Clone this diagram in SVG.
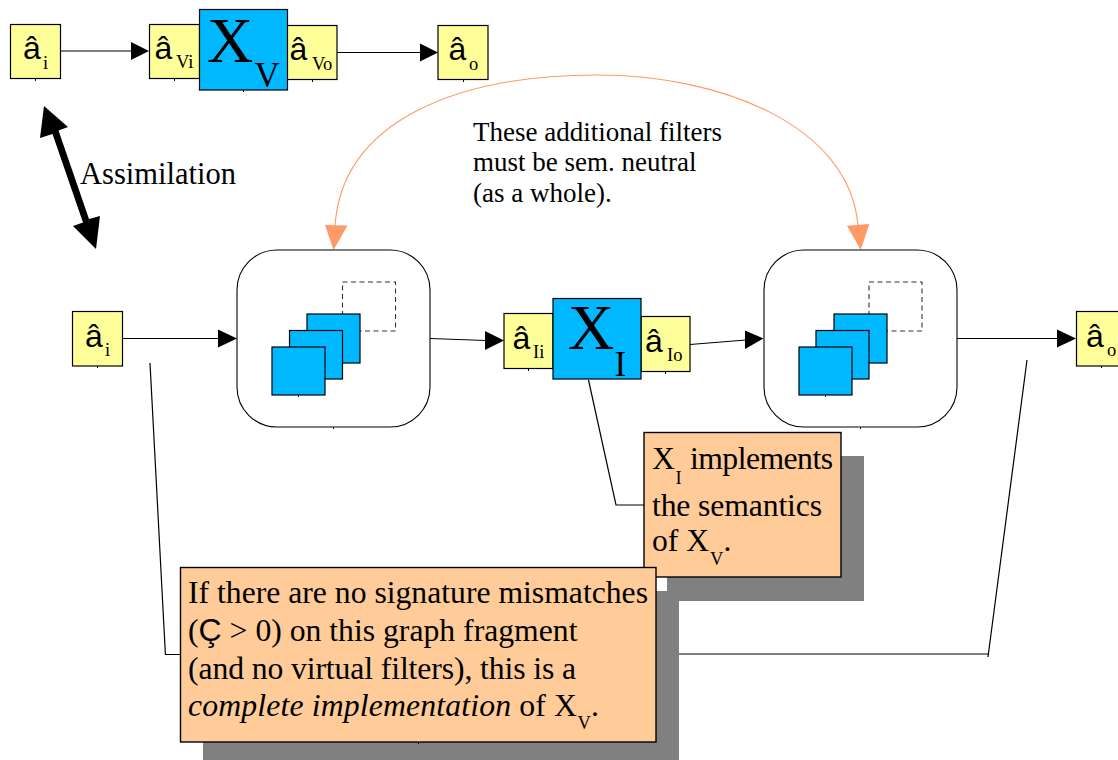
<svg xmlns="http://www.w3.org/2000/svg" width="1118" height="760" viewBox="0 0 1118 760">
<style>
.y{fill:#ffff99;stroke:#000;stroke-width:1.2}
.b{fill:#00b8ff;stroke:#000;stroke-width:1.2}
.o{fill:#ffcc99;stroke:#000;stroke-width:1.4}
.s{fill:#808080}
.r{fill:#fff;stroke:#000;stroke-width:1.1}
.d{fill:none;stroke:#333;stroke-width:1.1;stroke-dasharray:5 3.5}
.l{fill:none;stroke:#000;stroke-width:1.2}
.k{fill:none;stroke:#000;stroke-width:1}
.c{fill:none;stroke:#ff9966;stroke-width:1.1}
.t{font-family:"Liberation Serif","Times New Roman",serif;fill:#000}
.a{font-family:"Liberation Sans",Arial,sans-serif;font-size:32px;fill:#000}
.n{font-size:30.5px}
.m{font-size:31.7px}
.p{font-size:27px}
.u{font-size:18.5px}
.h{fill:#000}
.q{fill:#ff9966}
</style>
<g id="connectors">
<path class="l" d="M61,51H132"/><polygon class="h" points="149,51 131,42 131,60"/>
<path class="l" d="M337,52.500H421"/><polygon class="h" points="438,52.500 420,43.500 420,61.500"/>
<path class="l" d="M123,338.500H219"/><polygon class="h" points="237,338.500 218,329.500 218,347.500"/>
<path class="l" d="M430,338.500L486,340.500"/><polygon class="h" points="504,340.500 485,331 485,350"/>
<path class="l" d="M690,344.500L746,340"/><polygon class="h" points="763.500,338.500 745,330.500 745,349"/>
<path class="l" d="M957,338.500H1058"/><polygon class="h" points="1076,338.500 1057,329.500 1057,347.500"/>
<polygon class="h" points="44,106 68,127 58.500,130.500 89,219 100,216 96,249 73,226 83,222.500 52.500,134 40,138"/>
<path class="c" d="M335,226C342,122 455,75 597,75C720,75 850,125 858,226"/>
<polygon class="q" points="333.500,250 325,225 347.500,225.500"/>
<polygon class="q" points="860.700,250 847,225.700 869.300,224"/>
<path class="l" d="M150,363L165.400,654.500H181"/>
<path class="l" d="M588.500,380L616,505H644"/>
<path class="l" d="M1027,360L988,657M988,654H679"/>
</g>
<g id="node-ai-top"><rect class="y" x="10.500" y="24.500" width="50" height="54"/><path class="k" d="M35.500,79v2"/><text class="a" x="23" y="59">â</text><text class="t u" x="43" y="69">i</text></g>
<g id="node-avi"><rect class="y" x="149.500" y="24.500" width="50" height="54"/><path class="k" d="M174.500,79v2"/><text class="a" x="154.500" y="59">â</text><text class="t u" x="176" y="68">Vi</text></g>
<g id="node-avo"><rect class="y" x="287" y="25.500" width="50" height="54"/><path class="k" d="M312.500,80v2"/><text class="a" x="289.500" y="60">â</text><text class="t u" x="312" y="69.500">Vo</text></g>
<g id="node-xv"><rect class="b" x="199.500" y="9.500" width="88" height="80.500"/><path class="k" d="M243.500,90v2"/><text class="t" font-size="64" x="207" y="62">X</text><text class="t" font-size="35" x="254.500" y="87">V</text></g>
<g id="node-ao-top"><rect class="y" x="438" y="25.500" width="50" height="54"/><path class="k" d="M463.500,80v2"/><text class="a" x="448.500" y="60">â</text><text class="t u" x="469" y="70">o</text></g>
<g id="label-assimilation"><text class="t n" x="80" y="184">Assimilation</text></g>
<g id="label-filters"><text class="t p" x="473" y="141">These additional filters</text><text class="t p" x="473" y="171">must be sem. neutral</text><text class="t p" x="473" y="202">(as a whole).</text></g>
<g id="node-ai"><rect class="y" x="72.500" y="311.500" width="50" height="54.500"/><path class="k" d="M97.500,366v2"/><text class="a" x="85" y="347">â</text><text class="t u" x="105" y="356">i</text></g>
<g id="node-filters1"><rect class="r" x="237" y="250" width="193" height="177" rx="40" ry="40"/><path class="k" d="M333.500,427v2"/>
<rect class="d" x="342.500" y="282" width="53" height="49"/>
<rect class="b" x="307" y="314" width="53" height="49"/><rect class="b" x="289.500" y="330.500" width="53" height="48.500"/><rect class="b" x="272" y="347" width="53" height="48"/><path class="k" d="M298.500,395v2"/></g>
<g id="node-aii"><rect class="y" x="504" y="313.500" width="49" height="55"/><path class="k" d="M528.500,369v2"/><text class="a" x="512.500" y="349">â</text><text class="t u" x="533" y="358">Ii</text></g>
<g id="node-aio"><rect class="y" x="641" y="316.500" width="49" height="55"/><path class="k" d="M665.500,372v2"/><text class="a" x="645" y="352">â</text><text class="t u" x="667" y="361">Io</text></g>
<g id="node-xi"><rect class="b" x="553" y="298.500" width="88" height="80.500"/><text class="t" font-size="64" x="568" y="349">X</text><text class="t" font-size="35" x="614.500" y="376">I</text></g>
<g id="node-filters2"><rect class="r" x="764" y="250" width="193" height="177" rx="40" ry="40"/><path class="k" d="M860.500,427v2"/>
<rect class="d" x="869" y="282" width="53" height="49"/>
<rect class="b" x="834" y="314" width="53" height="49"/><rect class="b" x="816" y="330.500" width="53" height="48.500"/><rect class="b" x="799" y="347" width="53" height="48"/><path class="k" d="M825.500,395v2"/></g>
<g id="node-ao"><rect class="y" x="1076.500" y="311.500" width="50" height="54.500"/><path class="k" d="M1101.500,366v2"/><text class="a" x="1086" y="347">â</text><text class="t u" x="1107" y="356">o</text></g>
<g id="note-xi"><rect class="s" x="667" y="456" width="197" height="145"/><rect class="o" x="644" y="432.500" width="197" height="144.500"/>
<text class="t m" x="652" y="469">X</text><text class="t u" x="675.500" y="484">I</text><text class="t m" x="690" y="469" textLength="143">implements</text>
<text class="t m" x="652" y="516" textLength="170">the semantics</text>
<text class="t m" x="652" y="551">of X</text><text class="t u" x="710" y="565">V</text><text class="t m" x="723.500" y="551">.</text></g>
<g id="note-complete"><rect class="s" x="203" y="591" width="476" height="169"/><rect class="o" x="180.500" y="567.500" width="475.500" height="174.500"/><path class="k" d="M418.500,742v2"/>
<text class="t m" x="188" y="603" textLength="460">If there are no signature mismatches</text>
<text class="t m" x="188" y="641">(<tspan class="a" font-size="31.700px">Ç</tspan> &gt; 0) on this graph fragment</text>
<text class="t m" x="188" y="679" textLength="388">(and no virtual filters), this is a</text>
<text class="t m" x="188" y="716" textLength="389"><tspan font-style="italic">complete implementation</tspan> of X</text><text class="t u" x="577.500" y="729">V</text><text class="t m" x="591" y="716">.</text></g>
</svg>
